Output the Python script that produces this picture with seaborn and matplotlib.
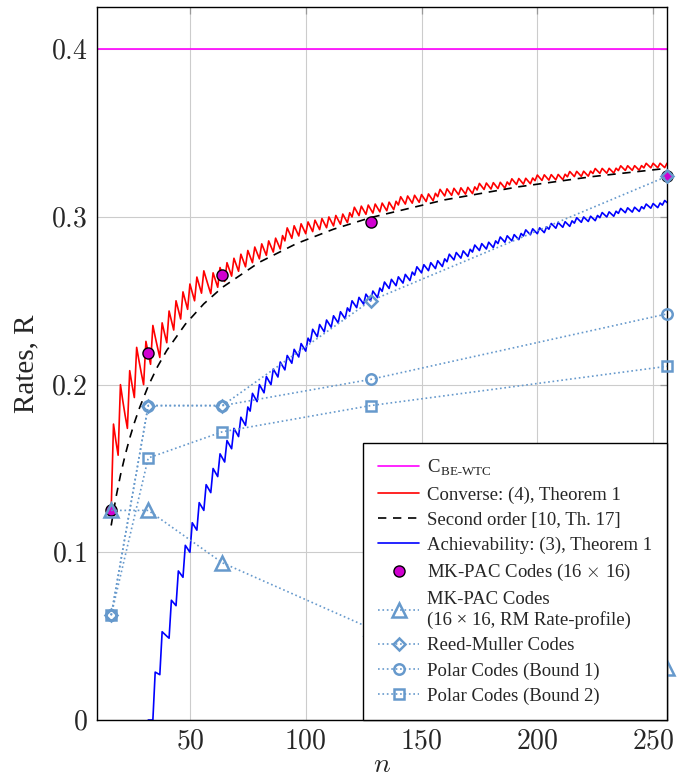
import numpy as np
import pandas as pd
import matplotlib
matplotlib.use('Agg')
import matplotlib.pyplot as plt
from matplotlib.ticker import FuncFormatter
import seaborn as sns

# Secrecy capacity of the BE wiretap channel
capacity = 0.4

# Converse (4): message size k at n = 16, then the n where k steps up by one
conv_k_start = 2
conv_steps = [17, 20, 24, 27, 31, 34, 38, 41, 44, 47, 50, 53, 56, 60, 63, 66, 69, 72, 75, 78,
              81, 84, 87, 90, 92, 95, 98, 101, 104, 107, 110, 113, 116, 119, 121, 124, 127, 130,
              133, 136, 139, 141, 144, 147, 150, 153, 156, 158, 161, 164, 167, 170, 173, 175, 178,
              181, 184, 187, 189, 192, 195, 198, 200, 203, 206, 209, 212, 214, 217, 220, 223, 225,
              228, 231, 234, 236, 239, 242, 245, 247, 250, 253, 256]

# Achievability (3): message size k at n = 32, then the n where k steps up by one
ach_k_start = 0
ach_steps = [35, 38, 42, 45, 48, 51, 54, 57, 60, 63, 66, 69, 72, 75, 77, 80, 83, 86, 89, 92, 95,
             98, 101, 103, 106, 109, 112, 115, 118, 120, 123, 126, 129, 132, 134, 137, 140, 143,
             146, 148, 151, 154, 157, 160, 162, 165, 168, 171, 173, 176, 179, 182, 184, 187, 190,
             193, 195, 198, 201, 204, 206, 209, 212, 215, 217, 220, 223, 226, 228, 231, 234, 236,
             239, 242, 245, 247, 250, 253, 255]

# Second order approximation [10, Th. 17]
so_n = [16, 18, 20, 22, 24, 26, 28, 32, 36, 40, 48, 56, 64, 80, 96, 112, 128, 160, 192, 224, 256]
so_rate = [0.116, 0.1323, 0.146, 0.1578, 0.1681, 0.1772, 0.1853, 0.1992, 0.2107, 0.2204, 0.236,
           0.2482, 0.258, 0.273, 0.2841, 0.2927, 0.2996, 0.3102, 0.318, 0.3241, 0.329]

# Code rates
code_n = [16, 32, 64, 128, 256]
mkpac = [0.125, 0.21875, 0.265625, 0.296875, 0.324219]
mkpac_rm = [0.125, 0.125, 0.09375, 0.0546875, 0.03125]
reed_muller = [0.0625, 0.1875, 0.1875, 0.25, 0.324219]
polar_b1 = [0.0625, 0.1875, 0.1875, 0.203125, 0.242188]
polar_b2 = [0.0625, 0.15625, 0.171875, 0.1875, 0.210938]

# build k/n tables
n_conv = np.arange(16, 257)
k_conv = conv_k_start + np.searchsorted(conv_steps, n_conv, side='right')
conv_df = pd.DataFrame({'n': n_conv, 'R': k_conv / n_conv})
n_ach = np.arange(32, 257)
k_ach = ach_k_start + np.searchsorted(ach_steps, n_ach, side='right')
ach_df = pd.DataFrame({'n': n_ach, 'R': k_ach / n_ach})

sns.set_theme(style='white')
plt.rcParams['font.family'] = ['Liberation Serif', 'DejaVu Serif']
plt.rcParams['mathtext.fontset'] = 'cm'

fig = plt.figure(figsize=(6.89, 7.81), dpi=100)
ax = fig.add_axes([0.1412, 0.0781, 0.8269, 0.9125])

code_col = '#6699cc'

ax.axhline(capacity, color='#ff00ff', lw=1.2, label=r'C$_{\mathregular{BE\text{-}WTC}}$')
sns.lineplot(data=conv_df, x='n', y='R', color='#ff0000', lw=1.2, ax=ax,
             label='Converse: (4), Theorem 1')
sns.lineplot(x=so_n, y=so_rate, color='black', lw=1.2, ax=ax, linestyle=(0, (5, 4)),
             label='Second order [10, Th. 17]')
sns.lineplot(data=ach_df, x='n', y='R', color='#0000ff', lw=1.2, ax=ax,
             label='Achievability: (3), Theorem 1')
sns.lineplot(x=code_n, y=mkpac, ax=ax, linestyle='none', marker='o', markersize=8,
             markerfacecolor='#d000d0', markeredgecolor='black', markeredgewidth=1.0,
             color='#d000d0', label=r'MK-PAC Codes (16 $\times$ 16)', clip_on=False, zorder=4)

code_series = [
    (mkpac_rm, '^', 9.5, 'MK-PAC Codes\n(16 × 16, RM Rate-profile)'),
    (reed_muller, 'D', 6.5, 'Reed-Muller Codes'),
    (polar_b1, 'o', 7.5, 'Polar Codes (Bound 1)'),
    (polar_b2, 's', 7.5, 'Polar Codes (Bound 2)'),
]
for vals, mk, ms, lab in code_series:
    sns.lineplot(x=code_n, y=vals, ax=ax, color=code_col, lw=1.2, linestyle=':',
                 marker=mk, markersize=ms, markerfacecolor='none',
                 markeredgecolor=code_col, markeredgewidth=1.8, label=lab,
                 clip_on=False, zorder=5)

ax.set_xlim(10, 256)
ax.set_ylim(0, 0.425)
ax.set_xticks([50, 100, 150, 200, 250])
ax.set_yticks([0, 0.1, 0.2, 0.3, 0.4])
fmt = FuncFormatter(lambda v, p: '$%g$' % v)
ax.xaxis.set_major_formatter(fmt)
ax.yaxis.set_major_formatter(fmt)
ax.tick_params(axis='both', which='both', direction='in', top=True, right=True,
               length=5, width=0.9, color='#999999', labelsize=20, pad=7)
ax.grid(True, color='#cccccc', lw=0.8)
for s in ax.spines.values():
    s.set_color('black')
    s.set_linewidth(1.0)

ax.set_xlabel('$n$', fontsize=20, labelpad=-1)
ax.set_ylabel('Rates, R', fontsize=21, labelpad=8)

leg = ax.legend(loc='lower right', bbox_to_anchor=(1, 0), borderaxespad=0,
                fontsize=13.5, fancybox=False, framealpha=1, edgecolor='black',
                handlelength=2.2, handletextpad=0.4, labelspacing=0.43, borderpad=0.8)
leg.get_frame().set_linewidth(1.0)
leg.set_zorder(10)

fig.savefig('out.png', dpi=100)
